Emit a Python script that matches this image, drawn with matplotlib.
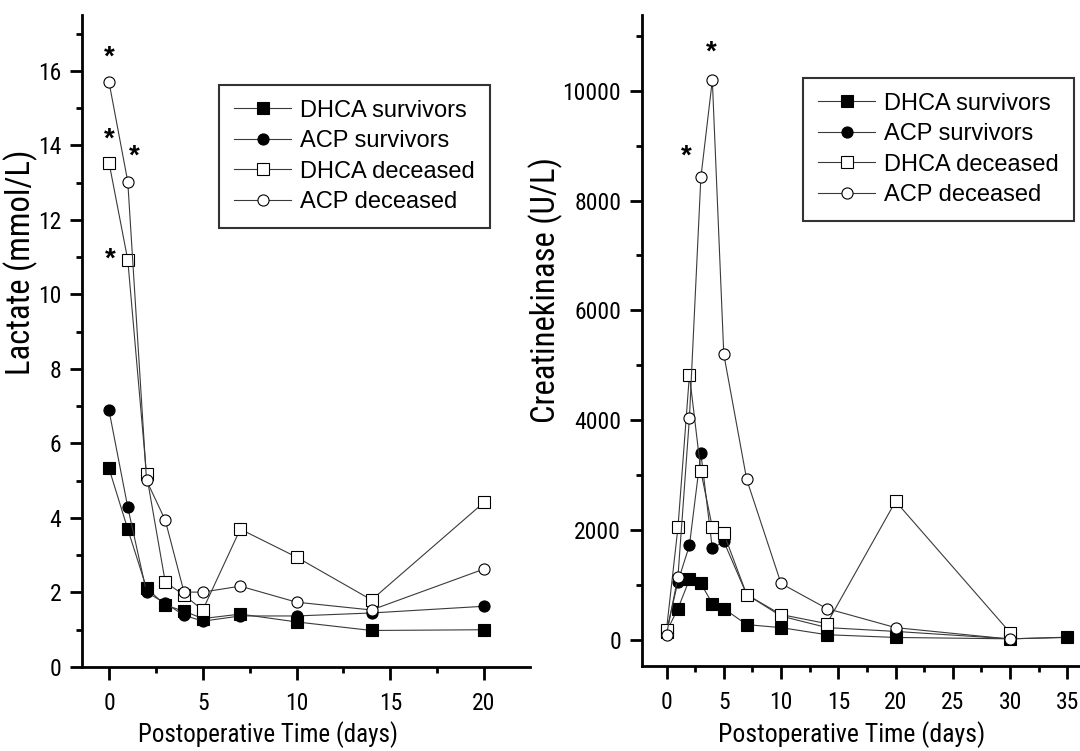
import matplotlib
matplotlib.use("Agg")
import matplotlib.pyplot as plt
from matplotlib.ticker import MultipleLocator
from matplotlib import font_manager

plt.rcParams['font.family'] = ['Liberation Sans', 'DejaVu Sans']

# ---- Lactate panel data ----
lac_days = [0, 1, 2, 3, 4, 5, 7, 10, 14, 20]
lac_dhca_surv = [5.33, 3.70, 2.12, 1.66, 1.50, 1.30, 1.42, 1.21, 0.98, 1.00]
lac_acp_surv = [6.89, 4.29, 2.01, 1.71, 1.39, 1.23, 1.37, 1.37, 1.45, 1.63]
lac_dhca_dec = [13.54, 10.93, 5.17, 2.28, 1.93, 1.53, 3.70, 2.95, 1.80, 4.42]
lac_acp_dec = [15.70, 13.03, 5.01, 3.94, 2.01, 2.01, 2.17, 1.74, 1.53, 2.63]
lac_star_x = [0, 0, 1.33, 0.05]
lac_star_y = [16.46, 14.26, 13.8, 11.04]

# ---- Creatinekinase panel data ----
ck_surv_days = [0, 1, 2, 3, 4, 5, 7, 10, 14, 20, 30, 35]
ck_dec_days = [0, 1, 2, 3, 4, 5, 7, 10, 14, 20, 30]
ck_dhca_surv = [146, 566, 1096, 1023, 658, 566, 274, 219, 90, 40, 15, 40]
ck_acp_surv = [150, 1059, 1717, 3397, 1662, 1790, 822, 430, 220, 150, 15, 45]
ck_dhca_dec = [183, 2046, 4822, 3068, 2046, 1936, 822, 457, 292, 2520, 128]
ck_acp_dec = [91, 1150, 4036, 8420, 10192, 5200, 2920, 1023, 566, 219, 10]
ck_star_x = [3.87, 1.76]
ck_star_y = [10776, 8877]

labels = ["DHCA survivors", "ACP survivors", "DHCA deceased", "ACP deceased"]

names = {f.name for f in font_manager.fontManager.ttflist}
condensed = None
for cand in ['Liberation Sans Narrow', 'Arial Narrow', 'Roboto Condensed', 'Open Sans Condensed']:
    if cand in names:
        condensed = cand
        break
lab_family = condensed if condensed else 'Liberation Sans'

fig = plt.figure(figsize=(10.8, 7.51), dpi=100)
ax1 = fig.add_axes([82 / 1080, 84 / 751, 448 / 1080, 652 / 751])
ax2 = fig.add_axes([642 / 1080, 85 / 751, 438 / 1080, 651 / 751])

line_kw = dict(color='#3a3a3a', lw=0.8, markeredgecolor='black', markeredgewidth=0.8, markersize=8)
styles = [dict(marker='s', markerfacecolor='black'),
          dict(marker='o', markerfacecolor='black'),
          dict(marker='s', markerfacecolor='white'),
          dict(marker='o', markerfacecolor='white')]

lac_series = [lac_dhca_surv, lac_acp_surv, lac_dhca_dec, lac_acp_dec]
for ys, st, lab in zip(lac_series, styles, labels):
    ax1.plot(lac_days, ys, label=lab, **line_kw, **st)

ck_x = [ck_surv_days, ck_surv_days, ck_dec_days, ck_dec_days]
ck_series = [ck_dhca_surv, ck_acp_surv, ck_dhca_dec, ck_acp_dec]
for xs, ys, st, lab in zip(ck_x, ck_series, styles, labels):
    ax2.plot(xs, ys, label=lab, clip_on=False, **line_kw, **st)

for ax, sx, sy in ((ax1, lac_star_x, lac_star_y), (ax2, ck_star_x, ck_star_y)):
    for x, y in zip(sx, sy):
        ax.annotate('*', (x, y), xytext=(0, -4), textcoords='offset pixels',
                    fontsize=20, fontweight='bold', ha='center', va='center')

ax1.set_xlim(-1.44, 22.45)
ax1.set_ylim(0, 17.5)
ax1.xaxis.set_major_locator(MultipleLocator(5))
ax1.xaxis.set_minor_locator(MultipleLocator(2.5))
ax1.yaxis.set_major_locator(MultipleLocator(2))
ax1.yaxis.set_minor_locator(MultipleLocator(1))
ax1.set_xticks([0, 5, 10, 15, 20])

ax2.set_xlim(-2.14, 36.1)
ax2.set_ylim(-480, 11380)
ax2.xaxis.set_major_locator(MultipleLocator(5))
ax2.xaxis.set_minor_locator(MultipleLocator(2.5))
ax2.yaxis.set_major_locator(MultipleLocator(2000))
ax2.yaxis.set_minor_locator(MultipleLocator(1000))
ax2.set_xticks([0, 5, 10, 15, 20, 25, 30, 35])
ax2.set_yticks([0, 2000, 4000, 6000, 8000, 10000])

tick_size = 17 if condensed else 16
for ax in (ax1, ax2):
    for s in ('top', 'right'):
        ax.spines[s].set_visible(False)
    for s in ('left', 'bottom'):
        ax.spines[s].set_linewidth(2)
    ax.tick_params(which='major', direction='out', length=9, width=2, labelsize=tick_size, pad=6)
    ax.tick_params(axis='x', which='major', pad=9)
    ax.tick_params(which='minor', direction='out', length=4.5, width=2)
    for lbl in ax.get_xticklabels() + ax.get_yticklabels():
        lbl.set_family(lab_family)

renderer = fig.canvas.get_renderer()


def fit_text(t, target_px, vertical=False, max_size=None):
    """Scale font size so the text's length matches the reference length."""
    bb = t.get_window_extent(renderer)
    cur = bb.height if vertical else bb.width
    size = t.get_fontsize() * target_px / cur
    if max_size is not None:
        size = min(size, max_size)
    t.set_fontsize(size)


# axis titles
xl1 = fig.text(268 / 1080, 1 - 735 / 751, 'Postoperative Time (days)', family=lab_family,
               fontsize=16, ha='center', va='center')
xl2 = fig.text(852 / 1080, 1 - 735 / 751, 'Postoperative Time (days)', family=lab_family,
               fontsize=16, ha='center', va='center')
fit_text(xl1, 260)
fit_text(xl2, 268)

if condensed:
    yl1 = fig.text(21 / 1080, 1 - 262 / 751, 'Lactate (mmol/L)', family=condensed,
                   fontsize=20, rotation=90, ha='center', va='center')
    yl2 = fig.text(546 / 1080, 1 - 290 / 751, 'Creatinekinase (U/L)', family=condensed,
                   fontsize=20, rotation=90, ha='center', va='center')
    fit_text(yl1, 270, vertical=True, max_size=23.5)
    fit_text(yl2, 282, vertical=True, max_size=23.5)
else:
    yl1 = fig.text(25 / 1080, 1 - 262 / 751, 'Lactate (mmol/L)', fontsize=21,
                   rotation=90, ha='center', va='center')
    yl2 = fig.text(547 / 1080, 1 - 290 / 751, 'Creatinekinase (U/L)', fontsize=21,
                   rotation=90, ha='center', va='center')

leg_kw = dict(fontsize=17, frameon=True, fancybox=False, edgecolor='black',
              handlelength=2.45, handletextpad=0.38, labelspacing=0.36,
              borderpad=0.62, borderaxespad=0)
l1 = ax1.legend(loc='upper left', bbox_to_anchor=((219 - 82) / 448, (667 - 85) / 652), **leg_kw)
l2 = ax2.legend(loc='upper left', bbox_to_anchor=((803 - 642) / 438, (666 - 78) / 651), **leg_kw)
for l in (l1, l2):
    l.get_frame().set_linewidth(1.5)

fig.savefig('out.png', dpi=100, facecolor='white')
